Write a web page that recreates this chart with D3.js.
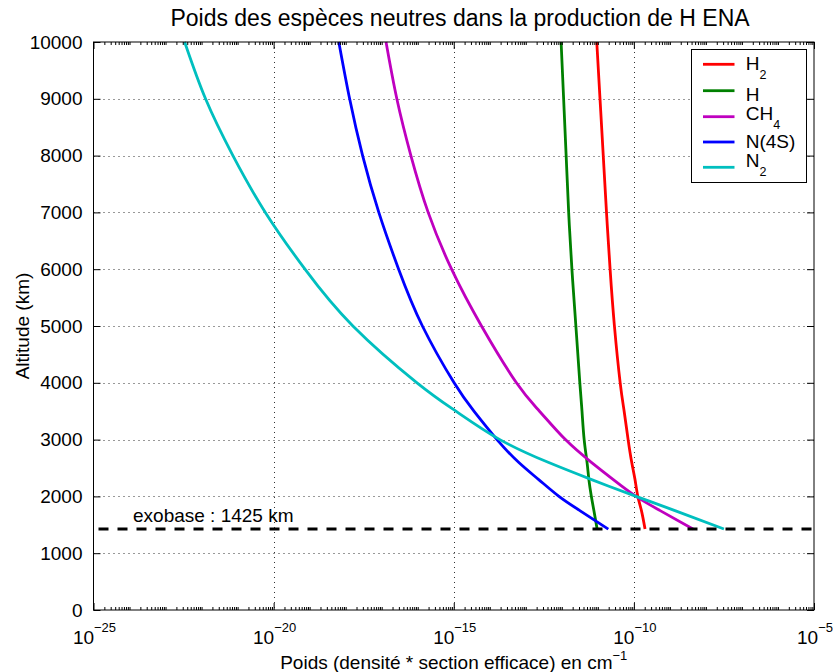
<!DOCTYPE html>
<html><head><meta charset="utf-8">
<script src="https://cdn.jsdelivr.net/npm/d3@7/dist/d3.min.js"></script>
<style>
body{margin:0;background:#fff;}
svg{display:block;font-family:"Liberation Sans",Arial,Helvetica,sans-serif;}
</style></head><body>
<svg id="chart" width="835" height="672"></svg>
<script>
// ---- data (stored as log10 of the weight) ----
const altitudes = [1425, 1750, 2000, 2300, 2600, 3000, 3500, 4000, 5000, 6000, 7000, 8000, 9000, 10000];
const logH2   = [-9.69, -9.79, -9.89, -9.97, -10.06, -10.16, -10.27, -10.38, -10.54, -10.66, -10.76, -10.85, -10.94, -11.03];
const logH    = [-11.02, -11.11, -11.18, -11.25, -11.30, -11.38, -11.44, -11.50, -11.61, -11.72, -11.81, -11.88, -11.95, -12.02];
const logCH4  = [-8.36, -9.27, -9.94, -10.58, -11.18, -11.90, -12.62, -13.26, -14.23, -15.06, -15.71, -16.19, -16.58, -16.88];
const logN4S  = [-10.71, -11.50, -12.08, -12.65, -13.20, -13.80, -14.44, -14.99, -15.87, -16.53, -17.08, -17.53, -17.89, -18.19];
const logN2   = [-7.50, -8.86, -9.94, -11.19, -12.38, -13.72, -14.94, -16.02, -17.80, -19.13, -20.23, -21.13, -21.89, -22.47];
const seriesKeys = ["H2", "H", "CH4", "N(4S)", "N2"];
const legendBase = ["H", "H", "CH", "N(4S)", "N"];
const legendSub  = ["2", "", "4", "", "2"];
const seriesColors = ["#ff0000", "#008000", "#bf00bf", "#0000ff", "#00bfbf"];
const xDomainExp = [-25, -5];
const xTickExponents = [-25, -20, -15, -10, -5];
const yTicks = [0, 1000, 2000, 3000, 4000, 5000, 6000, 7000, 8000, 9000, 10000];
const exobaseAltitude = 1425;
const exobaseLabel = "exobase : 1425 km";
const titleText = "Poids des espèces neutres dans la production de H ENA";
const xLabelText = "Poids (densité * section efficace) en cm";
const xLabelSup = "\u22121";
const yLabelText = "Altitude (km)";

const seriesLogs = [logH2, logH, logCH4, logN4S, logN2];

// ---- layout ----
const L = 93.5, R = 814, T = 42, B = 610;
const FS = 19;

const svg = d3.select("#chart");
const x = d3.scaleLog().domain(xDomainExp.map(e => Math.pow(10, e))).range([L, R]);
const y = d3.scaleLinear().domain([0, 10000]).range([B, T]);

// grid
const grid = svg.append("g").attr("stroke", "#333").attr("stroke-width", 1).attr("stroke-dasharray", "1,4");
grid.selectAll("line.gx").data(xTickExponents.slice(1, -1)).enter().append("line")
  .attr("x1", d => Math.round(x(Math.pow(10, d))) + 0.5).attr("x2", d => Math.round(x(Math.pow(10, d))) + 0.5)
  .attr("y1", T).attr("y2", B);
grid.selectAll("line.gy").data(yTicks.slice(1, -1)).enter().append("line")
  .attr("y1", d => Math.round(y(d)) + 0.5).attr("y2", d => Math.round(y(d)) + 0.5)
  .attr("x1", L).attr("x2", R);

// curves
svg.append("clipPath").attr("id", "clip").append("rect")
  .attr("x", L).attr("y", T - 2).attr("width", R - L).attr("height", B - T + 2);
const line = d3.line()
  .x(d => x(Math.pow(10, d[1])))
  .y(d => y(d[0]))
  .curve(d3.curveNatural);
const curves = svg.append("g").attr("clip-path", "url(#clip)");
seriesLogs.forEach((vals, i) => {
  curves.append("path")
    .datum(altitudes.map((a, j) => [a, vals[j]]))
    .attr("d", line)
    .attr("fill", "none")
    .attr("stroke", seriesColors[i])
    .attr("stroke-width", 2.8)
    .attr("stroke-linejoin", "round");
});

// exobase line
svg.append("line")
  .attr("x1", x(Math.pow(10, xDomainExp[0]))).attr("x2", x(Math.pow(10, xDomainExp[1])))
  .attr("y1", y(exobaseAltitude)).attr("y2", y(exobaseAltitude))
  .attr("stroke", "#000").attr("stroke-width", 3)
  .attr("stroke-dasharray", "10,9").attr("stroke-dashoffset", -5);
svg.append("text")
  .attr("x", 133).attr("y", y(exobaseAltitude) - 7)
  .attr("font-size", FS).attr("fill", "#000").text(exobaseLabel);

// axes box
svg.append("rect").attr("x", L).attr("y", T).attr("width", R - L).attr("height", B - T)
  .attr("fill", "none").attr("stroke", "#000").attr("stroke-width", 1);

// y axis (left + right), inward ticks
const yAxisL = d3.axisLeft(y).tickValues(yTicks).tickSizeInner(-7).tickSizeOuter(0).tickPadding(11).tickFormat(d3.format("d"));
const gyl = svg.append("g").attr("transform", `translate(${L},0)`).call(yAxisL);
gyl.select(".domain").remove();
gyl.selectAll("text").attr("font-size", FS).attr("font-family", null).attr("fill", "#000");
gyl.selectAll("line").attr("stroke", "#000");
const yAxisR = d3.axisRight(y).tickValues(yTicks).tickSizeInner(-7).tickSizeOuter(0).tickFormat("");
const gyr = svg.append("g").attr("transform", `translate(${R},0)`).call(yAxisR);
gyr.select(".domain").remove();
gyr.selectAll("line").attr("stroke", "#000");

// x axis major (bottom + top)
const xMajor = xTickExponents.map(e => Math.pow(10, e));
const xAxisB = d3.axisBottom(x).tickValues(xMajor).tickSizeInner(-7).tickSizeOuter(0).tickFormat("");
const gxb = svg.append("g").attr("transform", `translate(0,${B})`).call(xAxisB);
gxb.select(".domain").remove();
gxb.selectAll("line").attr("stroke", "#000");
const xAxisT = d3.axisTop(x).tickValues(xMajor).tickSizeInner(-7).tickSizeOuter(0).tickFormat("");
const gxt = svg.append("g").attr("transform", `translate(0,${T})`).call(xAxisT);
gxt.select(".domain").remove();
gxt.selectAll("line").attr("stroke", "#000");

// x minor ticks
const minorVals = [];
for (let e = xDomainExp[0]; e < xDomainExp[1]; e++) {
  for (let m = 1; m <= 9; m++) {
    if (m === 1 && xTickExponents.includes(e)) continue;
    minorVals.push(m * Math.pow(10, e));
  }
}
const gxbm = svg.append("g").attr("transform", `translate(0,${B})`)
  .call(d3.axisBottom(x).tickValues(minorVals).tickSizeInner(-3).tickSizeOuter(0).tickFormat(""));
gxbm.select(".domain").remove();
gxbm.selectAll("line").attr("stroke", "#000");
const gxtm = svg.append("g").attr("transform", `translate(0,${T})`)
  .call(d3.axisTop(x).tickValues(minorVals).tickSizeInner(-3).tickSizeOuter(0).tickFormat(""));
gxtm.select(".domain").remove();
gxtm.selectAll("line").attr("stroke", "#000");

// x tick labels 10^e
xTickExponents.forEach(e => {
  const px = x(Math.pow(10, e));
  const t = svg.append("text").attr("y", 644).attr("font-size", FS).attr("fill", "#000");
  t.append("tspan").text("10");
  t.append("tspan").attr("font-size", 13).attr("dy", -12).text("\u2212" + Math.abs(e));
  const w = t.node().getComputedTextLength();
  t.attr("x", px - w / 2 + 1);
});

// axis labels
const xl = svg.append("text").attr("y", 669).attr("font-size", FS).attr("fill", "#000");
xl.append("tspan").text(xLabelText);
xl.append("tspan").attr("font-size", 13).attr("dy", -9).text(xLabelSup);
const xlw = xl.node().getComputedTextLength();
xl.attr("x", (L + R) / 2 - xlw / 2);

svg.append("text")
  .attr("transform", `translate(29,${(T + B) / 2}) rotate(-90)`)
  .attr("text-anchor", "middle").attr("font-size", FS).attr("fill", "#000").text(yLabelText);

svg.append("text")
  .attr("x", 460).attr("y", 26).attr("text-anchor", "middle")
  .attr("font-size", 23).attr("fill", "#000").text(titleText);

// legend
const lg = svg.append("g");
lg.append("rect").attr("x", 691.5).attr("y", 49.5).attr("width", 115).attr("height", 133)
  .attr("fill", "#fff").attr("stroke", "#000").attr("stroke-width", 1);
const lineYs = [64.3, 90.7, 116.7, 142, 167.3];
const baseYs = [70, 100.5, 119.5, 148, 167.3];
seriesKeys.forEach((k, i) => {
  lg.append("line").attr("x1", 703).attr("x2", 734.5).attr("y1", lineYs[i]).attr("y2", lineYs[i])
    .attr("stroke", seriesColors[i]).attr("stroke-width", 2.8);
  const t = lg.append("text").attr("x", 745.7).attr("y", baseYs[i]).attr("font-size", FS).attr("fill", "#000");
  t.append("tspan").text(legendBase[i]);
  if (legendSub[i]) t.append("tspan").attr("font-size", 12.5).attr("dy", 9).text(legendSub[i]);
});
</script>
</body></html>
